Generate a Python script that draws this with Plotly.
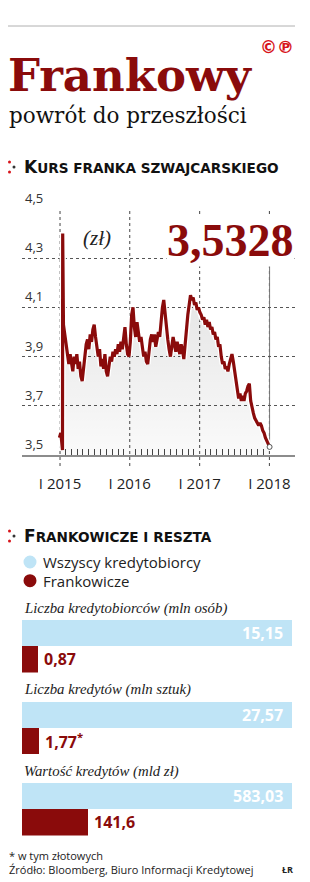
import plotly.graph_objects as go
import pandas as pd

W, H = 310, 882
def py(px):
    return 1 - px / H
def pxx(px):
    return px / W

RED = "#8a0b0b"
BLUE = "#bfe4f6"
BRIGHT = "#d7141a"

# ---------------- texts ----------------
title = "Frankowy"
subtitle = "powrót do przeszłości"
section1 = "Kurs franka szwajcarskiego"
section2 = "Frankowicze i reszta"
unit_label = "(zł)"
copyright_marks = "©℗"
footnote = "* w tym złotowych"
source = "Źródło: Bloomberg, Biuro Informacji Kredytowej"
author = "ŁR"

# ---------------- line data (CHF/PLN) ----------------
spike_dates = ["2014-12-29", "2015-01-05", "2015-01-09", "2015-01-13",
               "2015-01-14", "2015-01-15", "2015-01-16"]
spike_values = [3.57, 3.59, 3.56, 3.53, 3.52, 4.40, 4.12]
weekly_start = "2015-01-19"
weekly_values = [
    4.03, 3.99, 3.95, 3.90, 3.87, 3.91, 3.86, 3.84, 3.90, 3.87,
    3.91, 3.85, 3.88, 3.82, 3.80, 3.86, 3.90, 3.95, 3.97, 3.93,
    3.99, 3.96, 4.01, 4.03, 3.98, 3.94, 3.90, 3.93, 3.86, 3.89,
    3.85, 3.91, 3.84, 3.82, 3.87, 3.90, 3.88, 3.92, 3.90, 3.93,
    3.91, 3.95, 3.92, 3.96, 3.93, 3.99, 4.02, 3.95, 3.91, 3.90,
    3.96, 4.07, 4.10, 4.02, 3.98, 4.04, 4.00, 3.96, 3.98, 3.93,
    3.90, 3.92, 3.88, 3.87, 3.94, 3.97, 3.99, 3.96, 3.99, 3.94,
    3.97, 4.00, 3.98, 4.05, 4.10, 4.13, 4.07, 4.01, 3.97, 3.93,
    3.90, 3.94, 3.98, 3.95, 3.92, 3.96, 3.93, 3.91, 3.95, 3.93,
    3.89, 3.96, 4.03, 4.07, 4.11, 4.15, 4.13, 4.14, 4.11, 4.12,
    4.09, 4.10, 4.08, 4.07, 4.05, 4.06, 4.03, 4.05, 4.02, 4.04,
    4.01, 4.02, 3.99, 4.00, 3.97, 3.98, 3.94, 3.95, 3.90, 3.87,
    3.88, 3.85, 3.86, 3.84, 3.87, 3.89, 3.91, 3.88, 3.84, 3.81,
    3.77, 3.73, 3.75, 3.72, 3.74, 3.72, 3.75, 3.76, 3.78, 3.79,
    3.72, 3.69, 3.67, 3.65, 3.64, 3.63, 3.62, 3.63, 3.62, 3.60,
    3.59, 3.57, 3.56, 3.55,
]
last_date = "2018-01-02"
last_value = 3.5328

year_ticks = ["2015-01-01", "2016-01-01", "2017-01-01", "2018-01-01"]
year_labels = ["I 2015", "I 2016", "I 2017", "I 2018"]
y_ticks = [3.5, 3.7, 3.9, 4.1, 4.3, 4.5]
y_labels = ["3,5", "3,7", "3,9", "4,1", "4,3", "4,5"]

# ---------------- bar data ----------------
legend_labels = ["Wszyscy kredytobiorcy", "Frankowicze"]
bar_titles = ["Liczba kredytobiorców (mln osób)",
              "Liczba kredytów (mln sztuk)",
              "Wartość kredytów (mld zł)"]
all_values = [15.15, 27.57, 583.03]
chf_values = [0.87, 1.77, 141.6]
chf_marks = ["", "*", ""]


def fmt(v):
    return str(v).replace(".", ",")


weekly_dates = pd.date_range(weekly_start, periods=len(weekly_values), freq="7D")
dates = list(pd.to_datetime(spike_dates)) + list(weekly_dates) + [pd.Timestamp(last_date)]
values = spike_values + weekly_values + [last_value]

fig = go.Figure()

# fill under line
fig.add_trace(go.Scatter(
    x=dates, y=values, mode="lines", line=dict(width=0, color="rgba(0,0,0,0)"),
    fill="tozeroy",
    fillgradient=dict(type="vertical",
                      colorscale=[[0, "rgba(0,0,0,0.02)"], [1, "rgba(0,0,0,0.12)"]],
                      start=3.5, stop=4.3),
    hoverinfo="skip", showlegend=False, xaxis="x", yaxis="y"))
# white halo
fig.add_trace(go.Scatter(
    x=dates, y=values, mode="lines", line=dict(width=6, color="white"),
    hoverinfo="skip", showlegend=False, xaxis="x", yaxis="y"))
# red line
fig.add_trace(go.Scatter(
    x=dates, y=values, mode="lines", line=dict(width=3.2, color=RED),
    showlegend=False, xaxis="x", yaxis="y"))
# last point marker
fig.add_trace(go.Scatter(
    x=[pd.Timestamp(last_date)], y=[last_value], mode="markers",
    marker=dict(size=5, color="white", line=dict(color="#555", width=1)),
    showlegend=False, cliponaxis=False, xaxis="x", yaxis="y"))

# bars
group_tops = [620, 701.5, 783]
group_h = 52.5
layout_axes = {}
annotations = []
for i in range(3):
    xa = f"x{i+2}"
    ya = f"y{i+2}"
    fig.add_trace(go.Bar(
        x=[chf_values[i], all_values[i]],
        y=[legend_labels[1], legend_labels[0]],
        orientation="h", width=1,
        marker=dict(color=[RED, BLUE], line=dict(width=0)),
        showlegend=False, xaxis=xa, yaxis=ya, hoverinfo="skip"))
    layout_axes[f"xaxis{i+2}"] = dict(domain=[pxx(22), pxx(292)], range=[0, all_values[i]],
                                       visible=False, anchor=ya, fixedrange=True)
    top = group_tops[i]
    layout_axes[f"yaxis{i+2}"] = dict(domain=[py(top + group_h), py(top)], range=[-0.5, 1.5],
                                       type="category", categoryorder="array",
                                       categoryarray=[legend_labels[1], legend_labels[0]],
                                       visible=False, anchor=xa, fixedrange=True)
    annotations.append(dict(
        text=bar_titles[i], xref="paper", yref="paper", x=pxx(22), y=py(top - 12),
        xanchor="left", yanchor="middle", showarrow=False,
        font=dict(family="Liberation Serif", size=14.8, color="#222", style="italic")))
    annotations.append(dict(
        text=fmt(all_values[i]), xref=xa, yref=ya, x=all_values[i], y=legend_labels[0],
        xanchor="right", yanchor="middle", xshift=-7, showarrow=False,
        font=dict(family="Open Sans", size=16, color="white", weight="bold")))
    mark = f"<sup>{chf_marks[i]}</sup>" if chf_marks[i] else ""
    annotations.append(dict(
        text=fmt(chf_values[i]) + mark, xref=xa, yref=ya, x=chf_values[i], y=legend_labels[1],
        xanchor="left", yanchor="middle", xshift=4, showarrow=False,
        font=dict(family="Open Sans", size=16, color=RED, weight="bold")))

# y tick labels (drawn above each gridline, inside the plot)
for v, lab in zip(y_ticks, y_labels):
    annotations.append(dict(
        text=lab, xref="paper", yref="y", x=pxx(23), y=v, yshift=11,
        xanchor="left", yanchor="middle", showarrow=False,
        font=dict(family="Open Sans", size=13, color="#333")))


def small_caps(s, small=13.6):
    return f"{s[0].upper()}<span style='font-size:{small}px'>{s[1:].upper()}</span>"


annotations += [
    dict(text=title, xref="paper", yref="paper", x=pxx(6), y=py(76), xanchor="left",
         yanchor="middle", showarrow=False,
         font=dict(family="DejaVu Serif", size=45, color=RED, weight="bold")),
    dict(text=subtitle, xref="paper", yref="paper", x=pxx(7), y=py(116), xanchor="left",
         yanchor="middle", showarrow=False,
         font=dict(family="DejaVu Serif", size=21.5, color="#111")),
    dict(text=copyright_marks, xref="paper", yref="paper", x=pxx(296), y=py(47),
         xanchor="right", yanchor="middle", showarrow=False,
         font=dict(family="DejaVu Sans", size=17, color=BRIGHT, weight="bold")),
    dict(text=small_caps(section1), xref="paper", yref="paper", x=pxx(22), y=py(167),
         xanchor="left", yanchor="middle", showarrow=False,
         font=dict(family="DejaVu Sans", size=17, color="#111", weight="bold")),
    dict(text=small_caps(section2), xref="paper", yref="paper", x=pxx(22), y=py(536),
         xanchor="left", yanchor="middle", showarrow=False,
         font=dict(family="DejaVu Sans", size=17, color="#111", weight="bold")),
    dict(text=unit_label, xref="paper", yref="paper", x=pxx(81), y=py(238),
         xanchor="left", yanchor="middle", showarrow=False,
         font=dict(family="Liberation Serif", size=21, color="#222", style="italic")),
    dict(text=fmt(last_value), xref="paper", yref="paper", x=pxx(295), y=py(240),
         xanchor="right", yanchor="middle", showarrow=False, bgcolor="white", borderpad=0,
         font=dict(family="Liberation Serif", size=46, color=RED, weight="bold")),
    dict(text=legend_labels[0], xref="paper", yref="paper", x=pxx(41), y=py(562),
         xanchor="left", yanchor="middle", showarrow=False,
         font=dict(family="Open Sans", size=15, color="#222")),
    dict(text=legend_labels[1], xref="paper", yref="paper", x=pxx(41), y=py(580.7),
         xanchor="left", yanchor="middle", showarrow=False,
         font=dict(family="Open Sans", size=15, color="#222")),
    dict(text=footnote, xref="paper", yref="paper", x=pxx(7), y=py(855),
         xanchor="left", yanchor="middle", showarrow=False,
         font=dict(family="Open Sans", size=11, color="#222")),
    dict(text=source, xref="paper", yref="paper", x=pxx(7), y=py(869),
         xanchor="left", yanchor="middle", showarrow=False,
         font=dict(family="Open Sans", size=11, color="#222")),
    dict(text=author, xref="paper", yref="paper", x=pxx(295), y=py(869),
         xanchor="right", yanchor="middle", showarrow=False,
         font=dict(family="Open Sans", size=9, color="#222", weight="bold")),
]

shapes = []
# top rule
shapes.append(dict(type="line", xref="paper", yref="paper", x0=pxx(8), x1=pxx(295),
                   y0=py(26), y1=py(26), line=dict(color="#b0b0b0", width=1)))
# year grid lines
for d in year_ticks:
    shapes.append(dict(type="line", xref="x", yref="paper", x0=d, x1=d,
                       y0=py(466), y1=py(209), layer="below",
                       line=dict(color="#444", width=1, dash="dot")))
# leader line from last value up to label
shapes.append(dict(type="line", xref="x", yref="y", x0=last_date, x1=last_date,
                   y0=last_value, y1=4.27, layer="below",
                   line=dict(color="#777", width=1)))
# section bullets
for cy in [167, 536]:
    for (dx, dy, c) in [(9.5, -5, BRIGHT), (14, 0, "#333"), (9.5, 5, BRIGHT)]:
        shapes.append(dict(type="circle", xref="paper", yref="paper",
                           x0=pxx(dx - 1.5), x1=pxx(dx + 1.5),
                           y0=py(cy + dy + 1.5), y1=py(cy + dy - 1.5),
                           fillcolor=c, line=dict(width=0)))
# legend circles
for cy, c in [(562, BLUE), (580.7, RED)]:
    shapes.append(dict(type="circle", xref="paper", yref="paper",
                       x0=pxx(23.5), x1=pxx(36.5), y0=py(cy + 6.5), y1=py(cy - 6.5),
                       fillcolor=c, line=dict(width=0)))

minor_ticks = [d for d in pd.date_range("2015-02-01", "2017-12-01", freq="MS") if d.month != 1]

fig.update_layout(
    width=W, height=H, margin=dict(l=0, r=0, t=0, b=0),
    paper_bgcolor="white", plot_bgcolor="rgba(0,0,0,0)",
    showlegend=False, bargap=0,
    xaxis=dict(domain=[pxx(22), pxx(295)], range=["2014-06-16", "2018-05-15"],
               type="date", tickmode="array", tickvals=year_ticks, ticktext=year_labels,
               ticks="", showgrid=False, showline=True, linecolor="#8c8c8c", linewidth=1.5,
               zeroline=False, ticklabelstandoff=14, anchor="y", fixedrange=True,
               tickfont=dict(family="Open Sans", size=15, color="#222"),
               minor=dict(tickmode="array", tickvals=minor_ticks, ticks="inside",
                          ticklen=6, tickcolor="#444", tickwidth=1, showgrid=False)),
    yaxis=dict(domain=[py(455), py(209)], range=[3.5, 4.5], tickmode="array",
               tickvals=y_ticks, showticklabels=False, showgrid=True, gridcolor="#555",
               griddash="dot", gridwidth=1, ticks="", zeroline=False, showline=False,
               anchor="x", fixedrange=True),
    annotations=annotations, shapes=shapes,
    **layout_axes,
)

fig.write_html("out.html")
